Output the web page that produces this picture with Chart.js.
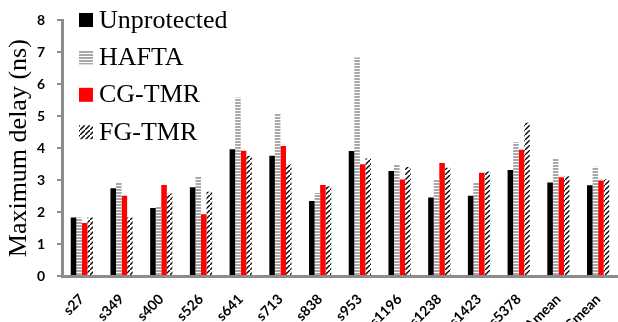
<!DOCTYPE html>
<html>
<head>
<meta charset="utf-8">
<script src="https://cdn.jsdelivr.net/npm/chart.js@4"></script>
<style>
  body { margin: 0; background: #fff; }
  canvas { display: block; }
</style>
</head>
<body>
<canvas id="delayChart" width="618" height="322"></canvas>
<script>
// data
const circuits = ['s27', 's349', 's400', 's526', 's641', 's713', 's838', 's953', 's1196', 's1238', 's1423', 's5378', 'Amean', 'Gmean'];
const unprotected = [1.83, 2.75, 2.13, 2.78, 3.97, 3.76, 2.35, 3.91, 3.29, 2.46, 2.51, 3.32, 2.93, 2.84];
const hafta       = [1.83, 2.94, 2.16, 3.12, 5.59, 5.10, 2.60, 6.84, 3.49, 3.03, 2.94, 4.19, 3.66, 3.42];
const cgTmr       = [1.66, 2.51, 2.85, 1.93, 3.92, 4.07, 2.85, 3.50, 3.02, 3.54, 3.23, 3.95, 3.09, 2.99];
const fgTmr       = [1.83, 1.83, 2.58, 2.64, 3.76, 3.50, 2.81, 3.68, 3.41, 3.39, 3.27, 4.80, 3.12, 3.03];
const yTicks = [0, 1, 2, 3, 4, 5, 6, 7, 8];

const AXIS_GRAY = '#8c8c8c';

// gray horizontal-line fill (HAFTA)
function makeLinePattern() {
    const c = document.createElement('canvas');
    c.width = 4; c.height = 3;
    const g = c.getContext('2d');
    g.fillStyle = '#ffffff';
    g.fillRect(0, 0, 4, 3);
    g.fillStyle = '#a8a8a8';
    g.fillRect(0, 0, 4, 2);
    return g.createPattern(c, 'repeat');
}

// black diagonal stripes (FG-TMR)
function makeHatchPattern() {
    const n = 5;
    const c = document.createElement('canvas');
    c.width = n; c.height = n;
    const g = c.getContext('2d');
    g.fillStyle = '#ffffff';
    g.fillRect(0, 0, n, n);
    g.strokeStyle = '#000000';
    g.lineWidth = 1.4;
    g.beginPath();
    g.moveTo(-1, n + 1); g.lineTo(n + 1, -1);
    g.moveTo(-n - 1, 1); g.lineTo(1, -n - 1);
    g.moveTo(n - 1, 2 * n + 1); g.lineTo(2 * n + 1, n - 1);
    g.stroke();
    return g.createPattern(c, 'repeat');
}

// legend drawn inside the plot, top-left, like the original
const insideLegend = {
    id: 'insideLegend',
    afterDraw(chart) {
        const ctx = chart.ctx;
        ctx.save();
        ctx.font = '26px "Liberation Serif"';
        ctx.textBaseline = 'alphabetic';
        ctx.textAlign = 'left';
        chart.data.datasets.forEach((ds, i) => {
            const y = 13 + i * 37.4;
            ctx.fillStyle = ds.backgroundColor;
            ctx.fillRect(79, y, 14, 14);
            ctx.fillStyle = '#000';
            ctx.fillText(ds.label, 99, y + 14.5);
        });
        ctx.restore();
    }
};

const ctx = document.getElementById('delayChart').getContext('2d');

new Chart(ctx, {
    type: 'bar',
    data: {
        labels: circuits,
        datasets: [
            { label: 'Unprotected', data: unprotected, backgroundColor: '#000000' },
            { label: 'HAFTA', data: hafta, backgroundColor: makeLinePattern() },
            { label: 'CG-TMR', data: cgTmr, backgroundColor: '#ff0000' },
            { label: 'FG-TMR', data: fgTmr, backgroundColor: makeHatchPattern() }
        ]
    },
    options: {
        responsive: false,
        devicePixelRatio: 1,
        animation: false,
        layout: { padding: { top: 15, right: 0, left: 0, bottom: 0 } },
        datasets: { bar: { categoryPercentage: 0.56, barPercentage: 1.0 } },
        plugins: {
            legend: { display: false },
            tooltip: { enabled: false }
        },
        scales: {
            x: {
                grid: { display: false, drawTicks: false },
                border: { display: true, color: AXIS_GRAY, width: 3 },
                ticks: {
                    autoSkip: false,
                    maxRotation: 45,
                    minRotation: 45,
                    padding: 15,
                    color: '#000',
                    font: { family: 'Lato', weight: 'bold', size: 14 }
                },
                afterFit: (s) => { s.height = 46; s.paddingLeft = 0; s.paddingRight = 0; }
            },
            y: {
                min: 0,
                max: 8,
                afterBuildTicks: (s) => { s.ticks = yTicks.map(v => ({ value: v })); },
                grid: { drawOnChartArea: false, drawTicks: true, tickLength: 5, color: AXIS_GRAY, lineWidth: 2 },
                border: { display: true, color: AXIS_GRAY, width: 3 },
                ticks: {
                    padding: 12,
                    color: '#000',
                    font: { family: 'Lato', weight: 'bold', size: 14 }
                },
                title: {
                    display: true,
                    text: 'Maximum delay (ns)',
                    color: '#000',
                    font: { family: 'Liberation Serif', size: 26 },
                    padding: { top: 4, bottom: 0 }
                },
                afterFit: (s) => { s.width = 62; }
            }
        }
    },
    plugins: [insideLegend]
});
</script>
</body>
</html>
